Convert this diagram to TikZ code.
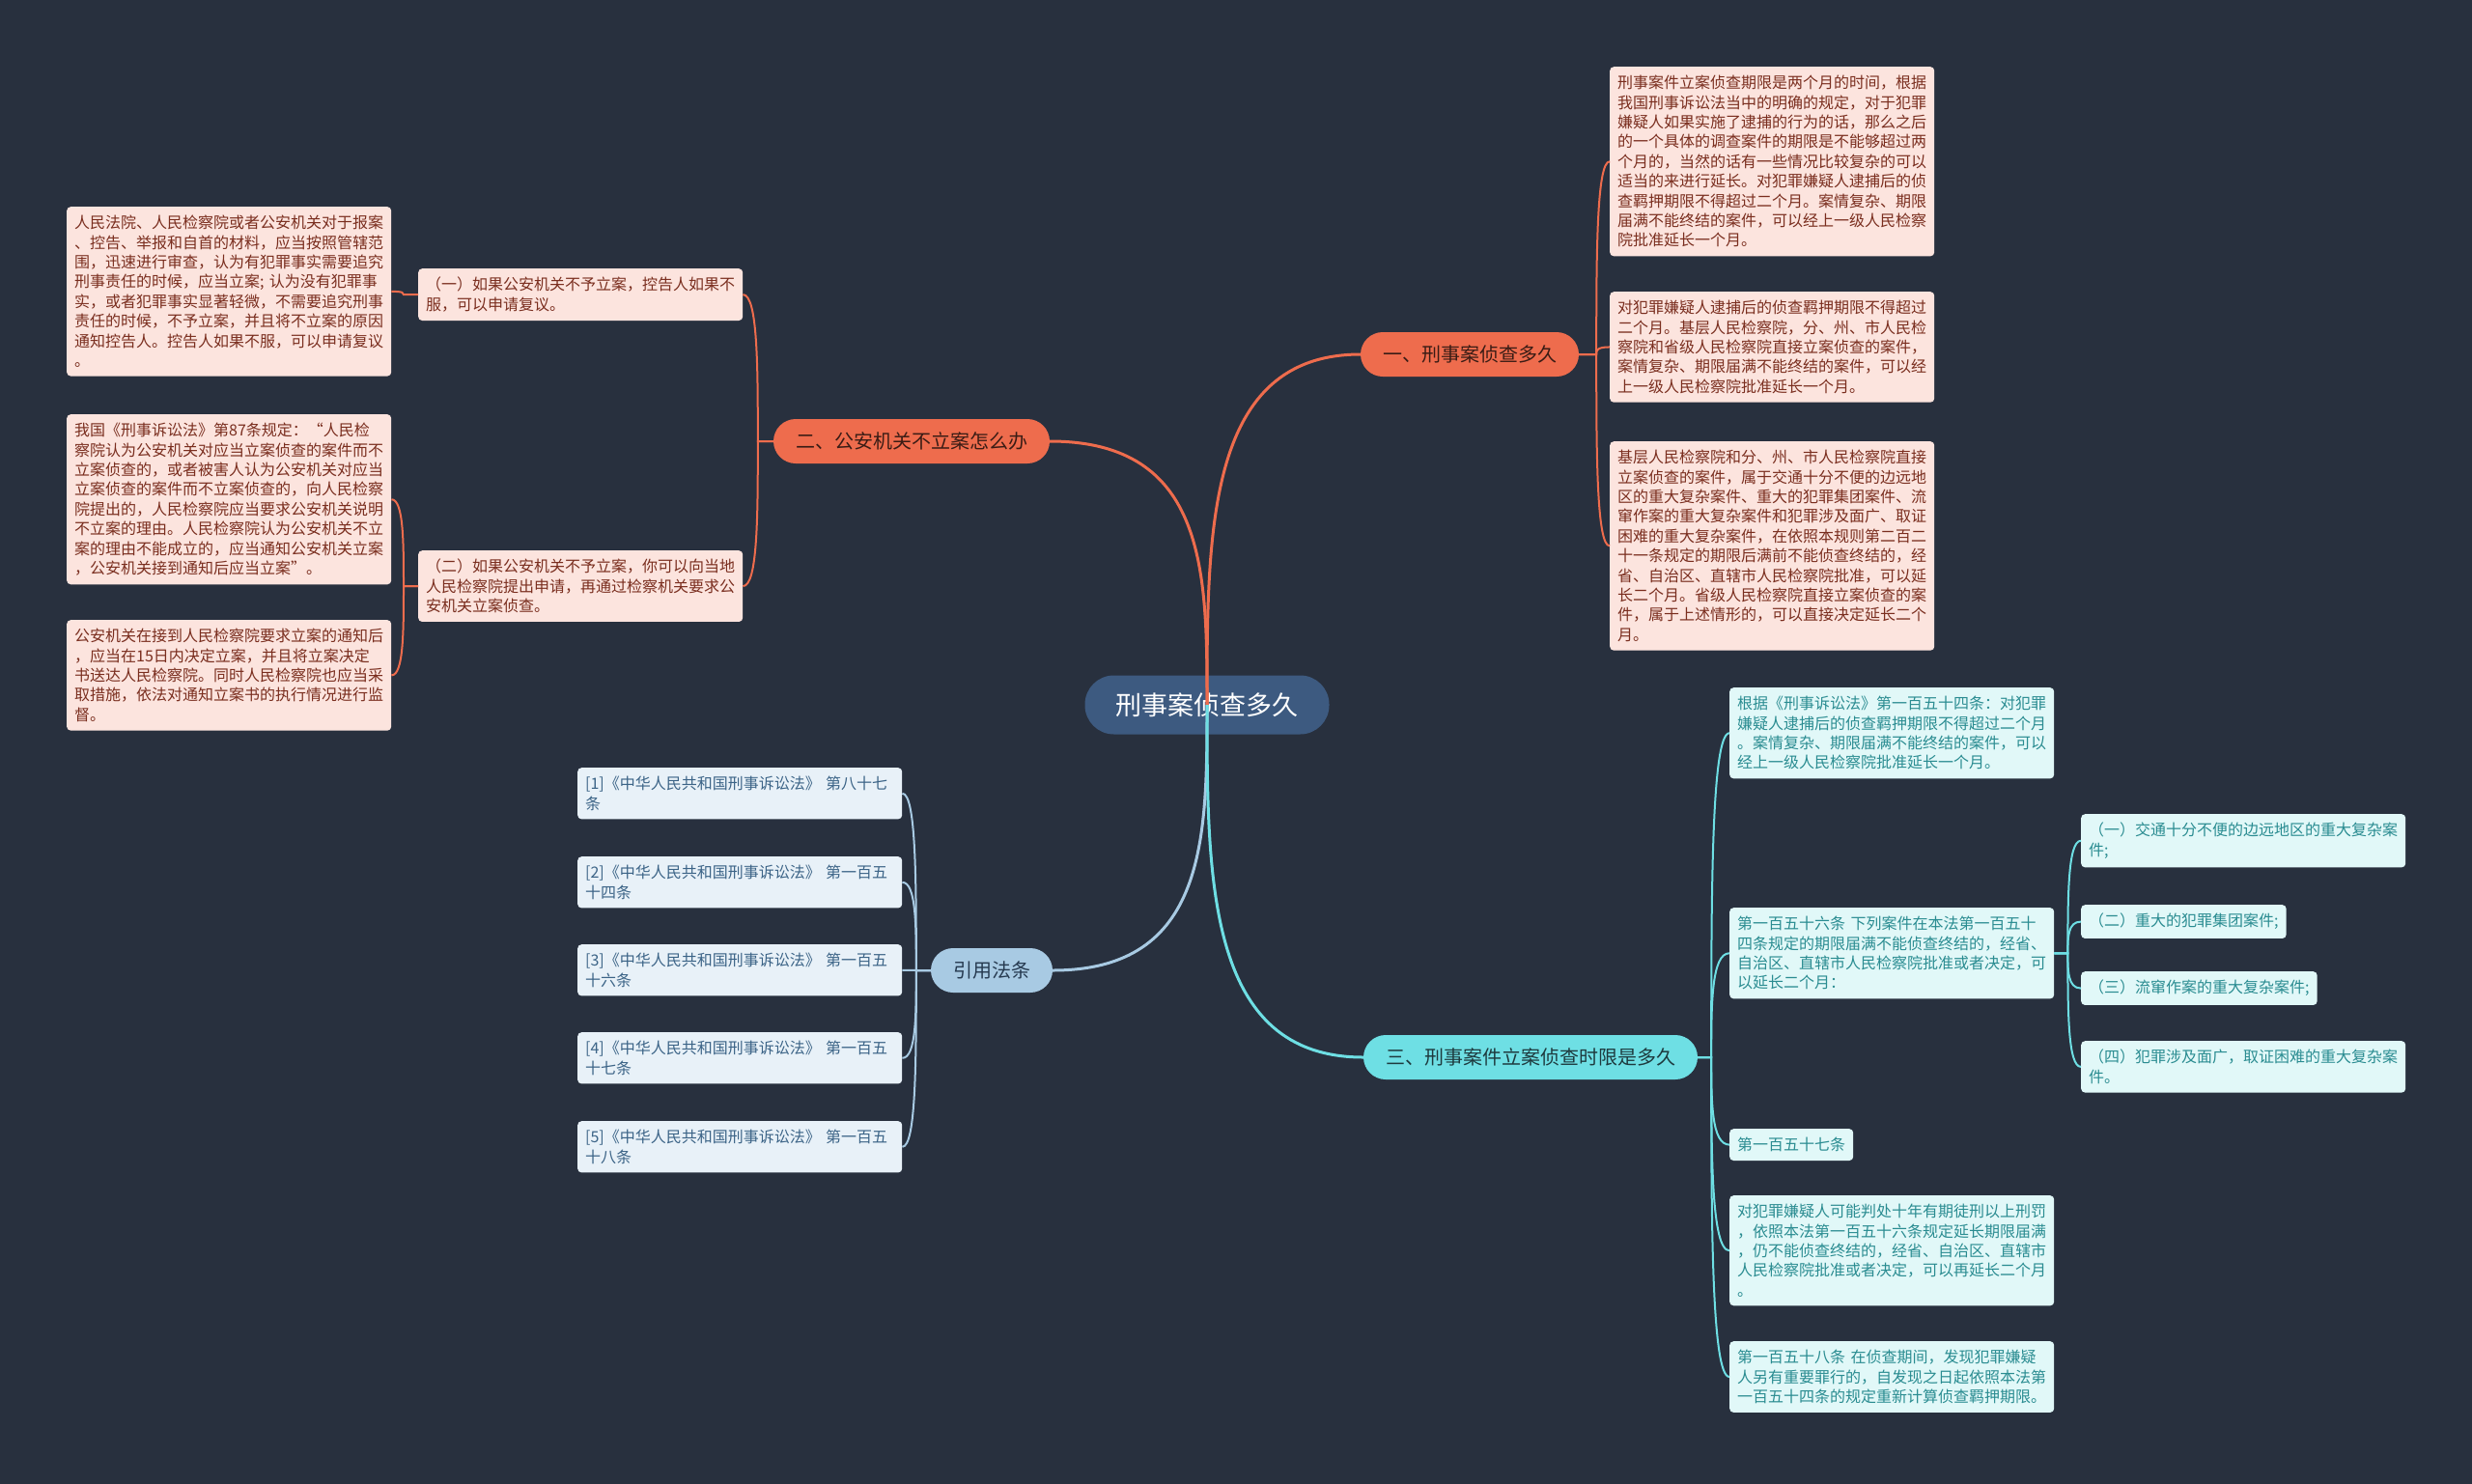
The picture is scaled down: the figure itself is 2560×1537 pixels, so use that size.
\documentclass[tikz,border=0pt]{standalone}
\usepackage{fontspec}
\setmainfont{Noto Sans CJK SC}
\usetikzlibrary{calc}
\definecolor{bg}{HTML}{28303E}
\definecolor{rootfill}{HTML}{3D5A80}
\definecolor{ofill}{HTML}{EE6C4D}
\definecolor{otext}{HTML}{3A1C15}
\definecolor{oleaffill}{HTML}{FCE4DE}
\definecolor{oleaftext}{HTML}{7A2E1F}
\definecolor{bfill}{HTML}{A8CAE3}
\definecolor{btext}{HTML}{263A50}
\definecolor{bleaffill}{HTML}{E8F1F8}
\definecolor{bleaftext}{HTML}{3C6487}
\definecolor{cfill}{HTML}{6EDFE4}
\definecolor{ctext}{HTML}{1E3A3E}
\definecolor{cleaffill}{HTML}{E1F8F8}
\definecolor{cleaftext}{HTML}{2A8C91}
\tikzset{
  rootnode/.style={fill=rootfill, text=white, font=\fontsize{27}{32}\selectfont,
    rounded corners=30pt, minimum height=61pt, inner xsep=32pt},
  branch/.style={font=\fontsize{20}{24}\selectfont, rounded corners=23pt,
    minimum height=46pt, inner xsep=23pt},
  obranch/.style={branch, fill=ofill, text=otext},
  bbranch/.style={branch, fill=bfill, text=btext},
  cbranch/.style={branch, fill=cfill, text=ctext},
  leaf/.style={anchor=north west, rounded corners=4pt, inner xsep=8pt, inner ysep=9pt,
    font=\fontsize{16}{20.4}\selectfont, align=left},
  wide/.style={text width=320pt},
  oleaf/.style={leaf, fill=oleaffill, text=oleaftext},
  bleaf/.style={leaf, fill=bleaffill, text=bleaftext},
  cleaf/.style={leaf, fill=cleaffill, text=cleaftext},
  mainline/.style={line width=3pt},
  subline/.style={line width=2pt},
  oline/.style={draw=ofill},
  bline/.style={draw=bfill},
  cline/.style={draw=cfill},
  branchto/.style={to path={-- ++(#1,0) coordinate (tmpS)
    .. controls ($(tmpS)!0.5!(tmpS |- \tikztotarget)$) and (tmpS |- \tikztotarget)
    .. (\tikztotarget)}}
}
\begin{document}
\begin{tikzpicture}[x=1pt,y=-1pt]
\fill[bg] (0,0) rectangle (2560,1537);
\useasboundingbox (0,0) rectangle (2560,1537);

% root and branches
\node[rootnode] (root) at (1250,730) {刑事案侦查多久};
\node[obranch] (n1) at (1522,367) {一、刑事案侦查多久};
\node[obranch] (n2) at (944,457) {二、公安机关不立案怎么办};
\node[bbranch] (n3) at (1027,1005) {引用法条};
\node[cbranch] (n4) at (1585,1095) {三、刑事案件立案侦查时限是多久};

% branch one leaves
\node[oleaf,wide] (a1) at (1667,69) {刑事案件立案侦查期限是两个月的时间，根据\\我国刑事诉讼法当中的明确的规定，对于犯罪\\嫌疑人如果实施了逮捕的行为的话，那么之后\\的一个具体的调查案件的期限是不能够超过两\\个月的，当然的话有一些情况比较复杂的可以\\适当的来进行延长。对犯罪嫌疑人逮捕后的侦\\查羁押期限不得超过二个月。案情复杂、期限\\届满不能终结的案件，可以经上一级人民检察\\院批准延长一个月。};
\node[oleaf,wide] (a2) at (1667,302) {对犯罪嫌疑人逮捕后的侦查羁押期限不得超过\\二个月。基层人民检察院，分、州、市人民检\\察院和省级人民检察院直接立案侦查的案件，\\案情复杂、期限届满不能终结的案件，可以经\\上一级人民检察院批准延长一个月。};
\node[oleaf,wide] (a3) at (1667,457) {基层人民检察院和分、州、市人民检察院直接\\立案侦查的案件，属于交通十分不便的边远地\\区的重大复杂案件、重大的犯罪集团案件、流\\窜作案的重大复杂案件和犯罪涉及面广、取证\\困难的重大复杂案件，在依照本规则第二百二\\十一条规定的期限后满前不能侦查终结的，经\\省、自治区、直辖市人民检察院批准，可以延\\长二个月。省级人民检察院直接立案侦查的案\\件，属于上述情形的，可以直接决定延长二个\\月。};

% branch two leaves
\node[oleaf,wide] (b1) at (433,278) {（一）如果公安机关不予立案，控告人如果不\\服，可以申请复议。};
\node[oleaf,wide] (b1c) at (69,214) {人民法院、人民检察院或者公安机关对于报案\\、控告、举报和自首的材料，应当按照管辖范\\围，迅速进行审查，认为有犯罪事实需要追究\\刑事责任的时候，应当立案; 认为没有犯罪事\\实，或者犯罪事实显著轻微，不需要追究刑事\\责任的时候，不予立案，并且将不立案的原因\\通知控告人。控告人如果不服，可以申请复议\\。};
\node[oleaf,wide] (b2) at (433,570) {（二）如果公安机关不予立案，你可以向当地\\人民检察院提出申请，再通过检察机关要求公\\安机关立案侦查。};
\node[oleaf,wide] (b2a) at (69,429) {我国《刑事诉讼法》第87条规定：“人民检\\察院认为公安机关对应当立案侦查的案件而不\\立案侦查的，或者被害人认为公安机关对应当\\立案侦查的案件而不立案侦查的，向人民检察\\院提出的，人民检察院应当要求公安机关说明\\不立案的理由。人民检察院认为公安机关不立\\案的理由不能成立的，应当通知公安机关立案\\，公安机关接到通知后应当立案”。};
\node[oleaf,wide] (b2b) at (69,642) {公安机关在接到人民检察院要求立案的通知后\\，应当在15日内决定立案，并且将立案决定\\书送达人民检察院。同时人民检察院也应当采\\取措施，依法对通知立案书的执行情况进行监\\督。};

% references
\node[bleaf,wide] (r1) at (598,795) {[1]《中华人民共和国刑事诉讼法》 第八十七\\条};
\node[bleaf,wide] (r2) at (598,887) {[2]《中华人民共和国刑事诉讼法》 第一百五\\十四条};
\node[bleaf,wide] (r3) at (598,978) {[3]《中华人民共和国刑事诉讼法》 第一百五\\十六条};
\node[bleaf,wide] (r4) at (598,1069) {[4]《中华人民共和国刑事诉讼法》 第一百五\\十七条};
\node[bleaf,wide] (r5) at (598,1161) {[5]《中华人民共和国刑事诉讼法》 第一百五\\十八条};

% branch three leaves
\node[cleaf,wide] (c1) at (1791,712) {根据《刑事诉讼法》第一百五十四条：对犯罪\\嫌疑人逮捕后的侦查羁押期限不得超过二个月\\。案情复杂、期限届满不能终结的案件，可以\\经上一级人民检察院批准延长一个月。};
\node[cleaf,wide] (c2) at (1791,940) {第一百五十六条 下列案件在本法第一百五十\\四条规定的期限届满不能侦查终结的，经省、\\自治区、直辖市人民检察院批准或者决定，可\\以延长二个月：};
\node[cleaf] (c3) at (1791,1169) {第一百五十七条};
\node[cleaf,wide] (c4) at (1791,1238) {对犯罪嫌疑人可能判处十年有期徒刑以上刑罚\\，依照本法第一百五十六条规定延长期限届满\\，仍不能侦查终结的，经省、自治区、直辖市\\人民检察院批准或者决定，可以再延长二个月\\。};
\node[cleaf,wide] (c5) at (1791,1389) {第一百五十八条 在侦查期间，发现犯罪嫌疑\\人另有重要罪行的，自发现之日起依照本法第\\一百五十四条的规定重新计算侦查羁押期限。};
\node[cleaf,wide] (d1) at (2155,843) {（一）交通十分不便的边远地区的重大复杂案\\件;};
\node[cleaf] (d2) at (2155,937) {（二）重大的犯罪集团案件;};
\node[cleaf] (d3) at (2155,1006) {（三）流窜作案的重大复杂案件;};
\node[cleaf,wide] (d4) at (2155,1078) {（四）犯罪涉及面广，取证困难的重大复杂案\\件。};

% main connectors
\draw[mainline,oline] (root.center) to[branchto=0] (n1.west);
\draw[mainline,oline] (root.center) to[branchto=0] (n2.east);
\draw[mainline,bline] (root.center) to[branchto=0] (n3.east);
\draw[mainline,cline] (root.center) to[branchto=0] (n4.west);

% sub connectors
\foreach \t in {a1,a2,a3} \draw[subline,oline] (n1.east) to[branchto=18] (\t.west);
\foreach \t in {b1,b2} \draw[subline,oline] (n2.west) to[branchto=-16] (\t.east);
\draw[subline,oline] (b1.west) to[branchto=-15] (b1c.east);
\foreach \t in {b2a,b2b} \draw[subline,oline] (b2.west) to[branchto=-15] (\t.east);
\foreach \t in {r1,r2,r3,r4,r5} \draw[subline,bline] (n3.west) to[branchto=-15] (\t.east);
\foreach \t in {c1,c2,c3,c4,c5} \draw[subline,cline] (n4.east) to[branchto=14] (\t.west);
\foreach \t in {d1,d2,d3,d4} \draw[subline,cline] (c2.east) to[branchto=14] (\t.west);
\end{tikzpicture}
\end{document}
